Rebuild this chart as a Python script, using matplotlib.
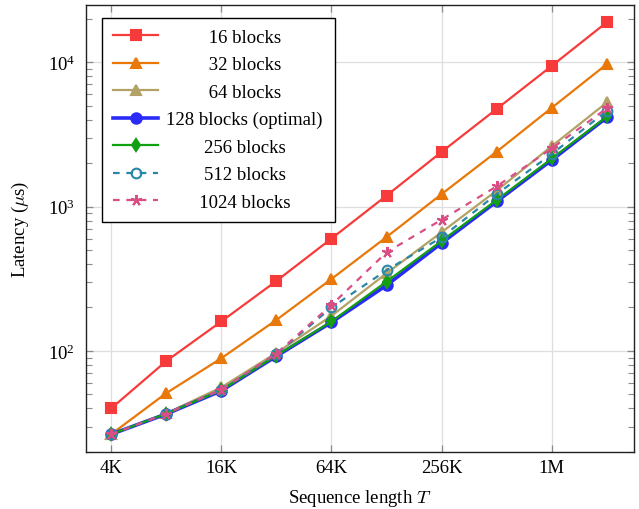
import numpy as np
import matplotlib
matplotlib.use("Agg")
import matplotlib.pyplot as plt
from matplotlib.font_manager import FontProperties
from matplotlib.ticker import FixedLocator, FixedFormatter, LogLocator, NullFormatter

plt.rcParams['font.family'] = ['Liberation Serif', 'DejaVu Serif']
plt.rcParams['mathtext.fontset'] = 'cm'

seq_len = [4096, 8192, 16384, 32768, 65536, 131072, 262144, 524288, 1048576, 2097152]
x_ticks = [4096, 16384, 65536, 262144, 1048576]
x_ticklabels = ['4K', '16K', '64K', '256K', '1M']

labels = ['16 blocks', '32 blocks', '64 blocks', '128 blocks (optimal)',
          '256 blocks', '512 blocks', '1024 blocks']
b16 = [40, 85, 160, 305, 600, 1190, 2390, 4740, 9420, 18900]
b32 = [26.5, 51, 89, 164, 315, 615, 1220, 2400, 4830, 9690]
b64 = [26.5, 37, 56, 97, 175, 345, 665, 1290, 2620, 5260]
b128 = [26.5, 36.6, 53, 92, 158, 285, 559, 1085, 2100, 4140]
b256 = [26.5, 36.8, 53.5, 93, 160, 302, 578, 1110, 2150, 4200]
b512 = [26.5, 36.8, 54, 95, 200, 362, 612, 1220, 2310, 4600]
b1024 = [26.5, 36.8, 54, 96, 208, 482, 811, 1380, 2530, 4790]
series = [b16, b32, b64, b128, b256, b512, b1024]

colors = ['#f73b3b', '#e8780a', '#b3a265', '#2b2bf7', '#12a012', '#2a87a8', '#d94f85']
markers = ['s', '^', '^', 'o', 'd', 'o', (5, 2, 0)]
msizes = [7.5, 7, 7, 7.5, 6, 7, 8]
lws = [1.6, 1.6, 1.6, 2.6, 1.6, 1.6, 1.6]
styles = ['-', '-', '-', '-', '-', (0, (3, 3)), (0, (3, 3))]
filled = [True, True, True, True, True, False, True]

FS = 13.5
fig = plt.figure(figsize=(6.39, 5.10), dpi=100)
ax = fig.add_axes([0.1346, 0.1118, 0.8576, 0.8764])

for vals, c, m, ms, lw, ls, fl, lab in zip(series, colors, markers, msizes, lws, styles, filled, labels):
    ax.plot(seq_len, vals, color=c, marker=m, markersize=ms, linewidth=lw, linestyle=ls,
            markerfacecolor=(c if fl else 'none'), markeredgecolor=c,
            markeredgewidth=1.5, label=lab)

ax.set_xscale('log', base=2)
ax.set_yscale('log')
ax.set_xlim(2990, 2 ** 21.49)
ax.set_ylim(20.0, 24800)

ax.xaxis.set_major_locator(FixedLocator(x_ticks))
ax.xaxis.set_major_formatter(FixedFormatter(x_ticklabels))
ax.xaxis.set_minor_locator(FixedLocator([]))
ax.yaxis.set_major_locator(LogLocator(base=10, numticks=10))
ax.yaxis.set_minor_locator(LogLocator(base=10, subs=np.arange(2, 10), numticks=20))
ax.yaxis.set_minor_formatter(NullFormatter())

ax.grid(True, which='major', color='#dedede', linewidth=0.9)
ax.set_axisbelow(True)
ax.tick_params(which='both', direction='in', top=True, right=True, color='#8a8a8a',
               labelsize=FS)
ax.tick_params(which='major', length=5, width=0.9)
ax.tick_params(axis='y', which='major', pad=8)
ax.tick_params(axis='x', which='major', pad=5)
ax.tick_params(which='minor', length=4.5, width=0.8)
for s in ax.spines.values():
    s.set_linewidth(1.0)
    s.set_color('#222222')

ax.set_xlabel('Sequence length $T$', fontsize=FS, labelpad=8)
ax.set_ylabel(r'Latency ($\mu$s)', fontsize=FS, labelpad=12)

# center legend labels by padding with non-breaking spaces
renderer = fig.canvas.get_renderer()
fp = FontProperties(family=['Liberation Serif'], size=FS)
def tw(s):
    return renderer.get_text_width_height_descent(s, fp, ismath=False)[0]
space_w = tw('a a') - tw('aa')
maxw = max(tw(l) for l in labels)
handles, labs = ax.get_legend_handles_labels()
padded = []
for l in labs:
    n = int(round((maxw - tw(l)) / 2 / space_w))
    padded.append('\u00a0' * n + l + '\u00a0' * n)

leg = ax.legend(handles, padded, loc='upper left', bbox_to_anchor=(0.029, 0.972),
                borderaxespad=0, fontsize=FS, frameon=True, fancybox=False,
                edgecolor='black', framealpha=1, handlelength=2.4,
                handletextpad=0.4, labelspacing=0.55, borderpad=0.6)
leg.get_frame().set_linewidth(1.0)

fig.savefig('out.png', dpi=100)
